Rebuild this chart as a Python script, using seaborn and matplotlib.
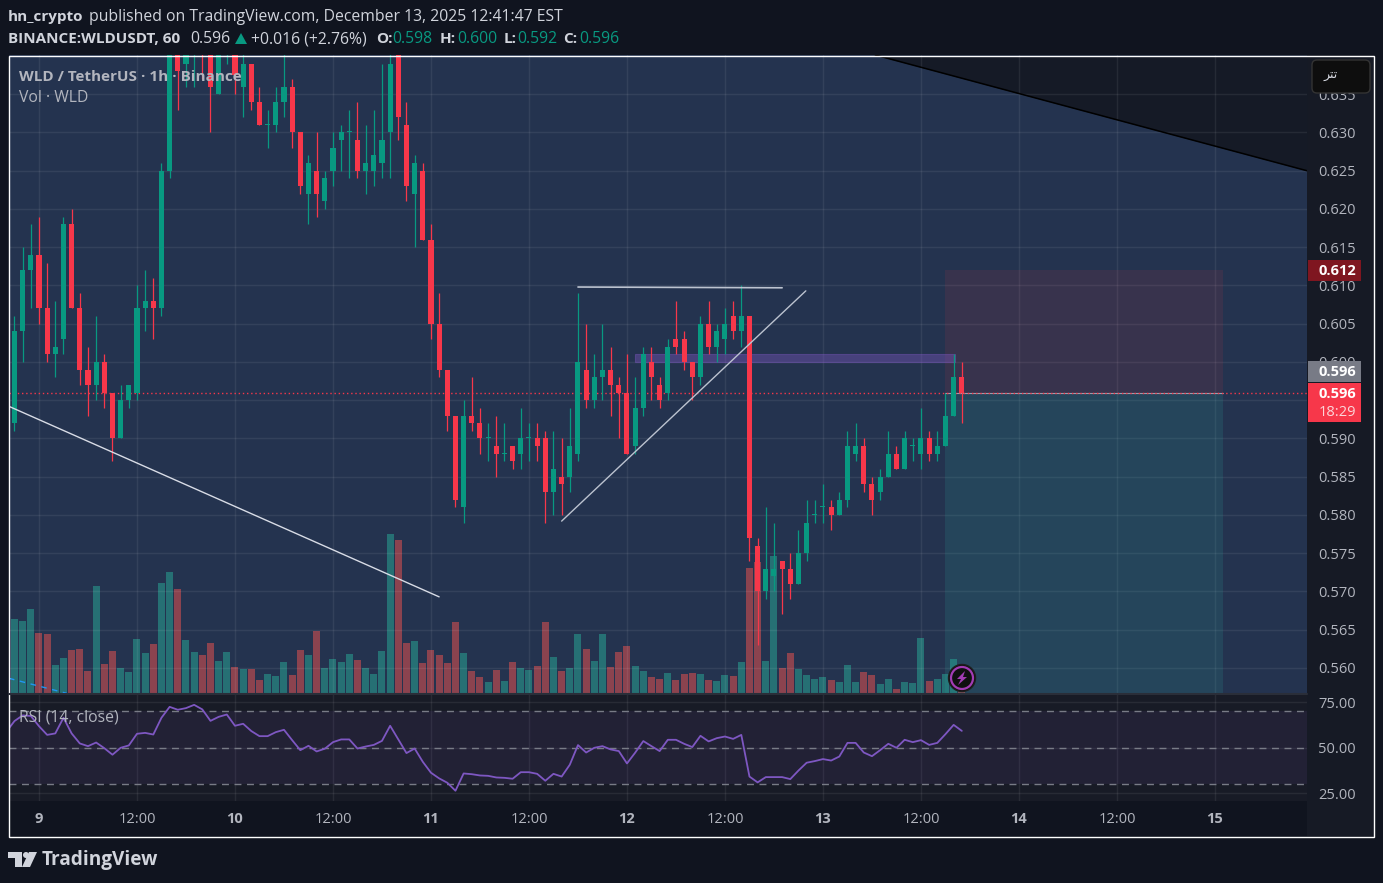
import numpy as np
import pandas as pd
import matplotlib
matplotlib.use('Agg')
import matplotlib.pyplot as plt
from matplotlib.patches import Rectangle, Circle, Polygon, FancyBboxPatch
import seaborn as sns

# candles, prices in thousandths of a USDT, first one is Dec 8 21:00
opens = [592,604,612,614,607,601,603,618,607,599,597,600,596,590,595,596,607,608,607,625,
         642,639,642,644,642,635,641,642,636,639,634,631,631,634,636,630,622,625,621,625,
         629,630,629,625,625,626,630,643,631,622,625,616,605,599,593,581,593,592,590,589,
         588,589,588,590,590,590,583,585,585,588,599,595,598,599,597,596,589,594,600,597,
         596,603,603,600,598,605,602,603,606,604,606,576,570,572,574,573,571,575,580,581,
         581,580,582,588,589,584,583,585,588,586,589,588,590,588,589,593,598]
highs = [606,615,618,619,613,608,619,620,609,602,606,601,596,597,597,610,612,611,626,643,
         643,643,644,645,643,643,643,642,641,639,636,633,636,641,637,630,627,630,625,630,
         631,633,634,631,633,639,641,644,634,627,626,618,609,599,593,595,598,594,592,593,
         592,589,594,592,592,591,591,590,594,609,605,601,605,602,598,601,598,602,602,598,
         603,608,604,600,606,608,605,607,608,610,606,577,581,579,574,575,578,582,582,584,
         582,583,591,592,590,585,586,591,589,591,590,594,591,591,596,601,600]
lows = [591,600,607,605,600,598,601,607,597,593,595,594,587,590,594,595,604,603,606,624,
        633,636,636,637,630,635,639,635,632,633,631,628,630,632,628,622,618,619,620,623,
        625,624,624,622,623,624,624,629,621,615,616,603,598,591,581,579,591,588,587,585,
        587,586,586,587,587,579,580,580,583,587,594,594,595,593,590,588,588,593,595,594,
        595,601,599,595,597,601,600,601,603,602,574,563,569,570,567,569,571,574,579,579,
        578,580,581,587,583,580,582,585,586,586,587,586,587,587,589,593,592]
closes = [604,612,614,607,601,602,618,607,599,597,600,596,590,595,597,607,608,607,625,642,
          638,642,643,642,636,642,642,637.5,639,634,631,631,634,636,630,623,626,622,624,628,
          630,630,625,626,627,629,639,632,623,626,616,605,599,593,582,593,592,590,590,588,
          588,587,590,590,589,583,586,584,589,600,595,598,599,597,596,588,594,601,598,595,
          602,602,600,598,605,602,604,605,604,606,577,570,573,573,573,571,575,579,580,581,
          580,582,589,589,584,582,585,588,586,590,589,590,588,589,593,598,596]

# volume and rsi start one hour earlier, that bar is cut by the left edge
vols = [74,225,219,255,183,180,87,108,132,135,69,324,90,129,78,66,165,123,150,333,
        366,315,162,126,117,153,99,126,81,75,75,42,60,54,96,57,132,117,189,78,
        105,96,120,102,78,60,129,480,462,153,159,93,132,117,93,216,123,69,51,36,
        72,39,96,78,72,84,216,111,69,78,180,135,99,180,81,126,144,84,69,51,
        45,63,42,60,63,60,42,39,57,54,96,378,396,99,414,78,123,75,57,45,
        51,42,36,87,36,66,57,30,45,15,36,33,168,39,45,60,105,9]
rsi = [58.8,64.7,67.8,67.5,61.9,57.1,57.9,66.5,57.9,52.4,50.9,52.9,49.8,46.2,50,51.3,57.7,58.2,57.3,66.5,
       72.5,70.9,71.8,73.6,71.1,64.8,67,68.3,62.1,63.2,59.2,56.4,56.4,58.6,59.9,54.2,48.7,51.1,48,49.5,
       53.1,54.6,54.6,49.6,50.7,51.6,53.8,62.1,54.6,47.1,49.6,42.3,36.3,33.2,30.8,26.4,35.9,35.5,34.8,34.6,
       33.7,33.5,33,36.6,36.6,35.7,31.9,35.7,34.2,40.7,51.5,47.4,50,50.9,49.1,48.2,41.4,47.3,53.7,50.9,
       48.2,54.4,54.4,52.2,50.4,56.6,53.5,55.3,56.2,54.9,57.1,34.2,31,33.9,33.9,33.9,32.8,37.5,41.8,42.7,
       43.8,43,45.2,52.7,52.7,47.4,45.4,48.7,52.2,50,54.4,53.1,54.2,51.6,52.7,57.5,62.6,59.3]

price_ticks = [0.56,0.565,0.57,0.575,0.58,0.585,0.59,0.595,0.6,0.605,0.61,0.615,0.62,0.625,0.63,0.635]
time_ticks = [3,15,27,39,51,63,75,87,99,111,123,135,147]
time_labels = ['9','12:00','10','12:00','11','12:00','12','12:00','13','12:00','14','12:00','15']
rsi_ticks = [25,50,75]

# drawings on the chart, as (bar, price)
line_down = ([-0.67,52],[0.5942,0.5693])
line_up = ([67,96.9],[0.5792,0.6093])
line_top = ([69,94],[0.6098,0.6097])
wedge_x = [105.4,158.27]
wedge_y = [0.64013,0.625]
zone_x = [76,115.2]
zone_y = [0.6,0.60105]
pos_x = [114,148]
pos_top, pos_entry, pos_bottom = 0.612, 0.596, 0.55
vol_ma_x = [-0.67,6.4]
vol_ma_y = [47,2]

W, H = 1383, 883
OUTER = '#10141f'
PANEL = '#161a25'
NAVY = '#24334f'
GREEN = '#089981'
RED = '#f7374a'
TXT = '#b2b5be'

sns.set_theme(style='dark')
plt.rcParams['font.family'] = ['Open Sans', 'DejaVu Sans']

fig = plt.figure(figsize=(W/100, H/100), dpi=100, facecolor=OUTER)

def pane(l, t, r, b, z):
    a = fig.add_axes([l/W, 1-b/H, (r-l)/W, (b-t)/H], zorder=z)
    for s in a.spines.values():
        s.set_visible(False)
    return a

bg = pane(0, 0, W, H, 0)
bg.set_xlim(0, W)
bg.set_ylim(H, 0)
bg.axis('off')
bg.add_patch(Rectangle((9, 55), 1365, 781, color=OUTER, lw=0))
bg.add_patch(Rectangle((1307, 55), 67, 781, color=PANEL, lw=0))

xlim = (-0.67, 158.27)
ylim = (0.55660, 0.64013)

hours = np.arange(len(opens))
o = np.array(opens)/1000
c = np.array(closes)/1000
hi = np.array(highs)/1000
lo = np.array(lows)/1000
colors = [GREEN if b >= a else RED for a, b in zip(o, c)]

# volume sits under the price pane
ax_vol = pane(9, 55, 1307, 694, 1)
ax_vol.set_facecolor(NAVY)
vol_df = pd.DataFrame({'hour': np.arange(-1, len(opens)), 'vol': vols})
vol_df['side'] = ['g'] + ['g' if b >= a else 'r' for a, b in zip(o, c)]
sns.barplot(data=vol_df, x='hour', y='vol', hue='side', palette={'g': '#28ad99', 'r': '#f2534f'},
            dodge=False, native_scale=True, width=0.86, alpha=0.5, saturation=1,
            legend=False, errorbar=None, linewidth=0, edgecolor='none', ax=ax_vol)
ax_vol.plot(vol_ma_x, vol_ma_y, color='#2196f3', lw=1, ls=(0, (4, 4)))
ax_vol.set_xlim(xlim)
ax_vol.set_ylim(0, 1917)
ax_vol.set_xticks([])
ax_vol.set_yticks([])
ax_vol.set_xlabel('')
ax_vol.set_ylabel('')

ax = pane(9, 55, 1307, 694, 2)
ax.patch.set_visible(False)
ax.set_axisbelow(True)
ax.fill_between(wedge_x, wedge_y, ylim[1], color='#151a26', lw=0, zorder=0.5)
ax.plot(wedge_x, wedge_y, color='black', lw=1.1, zorder=1)
ax.grid(True, color='white', alpha=0.07, lw=1)

ax.fill_between(pos_x, pos_entry, pos_top, color='#f23645', alpha=0.1, lw=0)
ax.fill_between(pos_x, pos_bottom, pos_entry, color='#2aa29c', alpha=0.17, lw=0)
ax.plot(pos_x, [pos_entry, pos_entry], color='#9aa0ae', lw=0.8)
ax.fill_between(zone_x, zone_y[0], zone_y[1], facecolor='#7e57c2', alpha=0.4, edgecolor='#7e57c2', lw=0.8)
ax.axhline(pos_entry, color=RED, ls=(0, (1, 2)), lw=1, zorder=2.5)

ax.vlines(hours, lo, hi, colors=colors, lw=0.9, zorder=3)
ax.bar(hours, np.maximum(np.abs(c-o), 0.00013), bottom=np.minimum(o, c), width=0.62, color=colors, lw=0, zorder=4)

ax.plot(*line_down, color='#d8dce6', lw=1, zorder=5)
ax.plot(*line_up, color='#bcc3d0', lw=1, zorder=5)
ax.plot(*line_top, color='#bcc3d0', lw=1.2, zorder=5)

ax.set_xlim(xlim)
ax.set_ylim(ylim)
ax.set_xticks(time_ticks)
ax.set_xticklabels([])
ax.yaxis.tick_right()
ax.set_yticks(price_ticks)
ax.set_yticklabels(['%.3f' % p for p in price_ticks])
ax.tick_params(axis='y', length=0, pad=8, labelsize=10.5, labelcolor=TXT)
ax.tick_params(axis='x', length=0)

ax_rsi = pane(9, 694, 1307, 801, 2)
ax_rsi.set_facecolor('#181b26')
ax_rsi.set_axisbelow(True)
ax_rsi.axhspan(30, 70, color='#7e57c2', alpha=0.1, lw=0)
ax_rsi.grid(True, color='white', alpha=0.07, lw=1)
for level in (70, 50, 30):
    ax_rsi.axhline(level, color='#787b86', lw=1, ls=(0, (5, 4)))
sns.lineplot(x=np.arange(-1, len(opens)), y=rsi, color='#7e57c2', lw=1.3, ax=ax_rsi)
ax_rsi.set_xlim(xlim)
ax_rsi.set_ylim(20.77, 79.56)
ax_rsi.set_xticks(time_ticks)
ax_rsi.set_xticklabels(time_labels)
ax_rsi.yaxis.tick_right()
ax_rsi.set_yticks(rsi_ticks)
ax_rsi.set_yticklabels(['%.2f' % v for v in rsi_ticks])
ax_rsi.tick_params(axis='y', length=0, pad=8, labelsize=10.5, labelcolor=TXT)
ax_rsi.tick_params(axis='x', length=0, pad=8, labelsize=10.5, labelcolor=TXT)
for lab in ax_rsi.get_xticklabels():
    if ':' not in lab.get_text():
        lab.set_fontweight('bold')

# overlay in pixel coordinates: frame, badges, header, logo
ov = pane(0, 0, W, H, 10)
ov.set_xlim(0, W)
ov.set_ylim(H, 0)
ov.axis('off')
ov.patch.set_visible(False)
ov.add_patch(Rectangle((8.5, 55.5), 1365.5, 781, fill=False, ec='white', lw=1))
ov.plot([9, 1307], [694, 694], color='#2a2e39', lw=1.5)

def label(x, y, s, color='#d1d4dc', size=11.3, weight='normal', ha='left'):
    ov.text(x, y, s, color=color, fontsize=size, fontweight=weight, ha=ha, va='center')

label(8, 17, 'hn_crypto', weight='bold', size=11)
label(89, 17, 'published on TradingView.com, December 13, 2025 12:41:47 EST')
label(8, 39, 'BINANCE:WLDUSDT, 60', weight='bold', size=11)
label(190, 39, '0.596')
ov.add_patch(Polygon([[235, 44], [247, 44], [241, 33]], color=GREEN, lw=0))
label(251, 39, '+0.016 (+2.76%)')
for x, s in ((376, 'O:'), (440, 'H:'), (504, 'L:'), (563, 'C:')):
    label(x, 39, s, weight='bold', size=11)
for x, s in ((392, '0.598'), (457, '0.600'), (517, '0.592'), (579, '0.596')):
    label(x, 39, s, color=GREEN)

label(19, 77, 'WLD / TetherUS · 1h · Binance', color=TXT, weight='bold', size=11)
label(19, 98, 'Vol · WLD', color=TXT)
label(19, 717, 'RSI (14, close)', color=TXT)

ov.add_patch(FancyBboxPatch((1314, 62), 54, 29, boxstyle='round,pad=2,rounding_size=5', fc='#0e0e0e', ec='#333333', lw=1))
ov.text(1331, 76, '\ufeae\ufe98\ufe97', color='#d1d4dc', fontsize=9, ha='center', va='center', family='DejaVu Sans')

ov.add_patch(Rectangle((1308, 260), 53, 21, color='#7f1620', lw=0))
label(1337.5, 271, '0.612', color='white', weight='bold', ha='center', size=10.5)
ov.add_patch(Rectangle((1308, 361), 53, 21, color='#787b86', lw=0))
label(1337.5, 372, '0.596', color='white', weight='bold', ha='center', size=10.5)
ov.add_patch(Rectangle((1308, 383), 53, 39, color=RED, lw=0))
label(1337.5, 394, '0.596', color='white', weight='bold', ha='center', size=10.5)
label(1337.5, 412, '18:29', color='#fcd5d9', ha='center', size=10.5)

ov.add_patch(Circle((962, 678), 13.5, fc='#101010', ec='#1e1e1e', lw=1))
ov.add_patch(Circle((962, 678), 11, fc='#101010', ec='#a23cb4', lw=1.6))
ov.add_patch(Polygon([[965, 671], [957, 679], [961, 679], [958, 685], [967, 677], [963, 677]], color='#a23cb4', lw=0))

# logo
ov.add_patch(Polygon([[8, 852], [22, 852], [22, 867], [15, 867], [15, 858], [8, 858]], color='#d1d4dc', lw=0))
ov.add_patch(Circle((26, 855), 3, color='#d1d4dc', lw=0))
ov.add_patch(Polygon([[29, 852], [37, 852], [30, 867], [22, 867]], color='#d1d4dc', lw=0))
label(42, 860, 'TradingView', size=13.7, weight='bold')

fig.savefig('out.png', dpi=100, facecolor=OUTER)
